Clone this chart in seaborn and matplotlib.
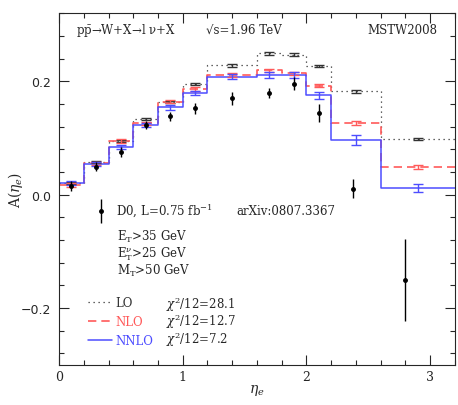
import numpy as np
import pandas as pd
import matplotlib
matplotlib.use("Agg")
import matplotlib.pyplot as plt
import seaborn as sns
from matplotlib.lines import Line2D
from matplotlib.legend_handler import HandlerErrorbar
from matplotlib.container import ErrorbarContainer

# bin edges of the theory predictions and their bin centres
edges = [0.0, 0.2, 0.4, 0.6, 0.8, 1.0, 1.2, 1.6, 1.8, 2.0, 2.2, 2.6, 3.2]
centres = [0.1, 0.3, 0.5, 0.7, 0.9, 1.1, 1.4, 1.7, 1.9, 2.1, 2.4, 2.9]

lo = [0.020, 0.057, 0.095, 0.133, 0.164, 0.195, 0.228, 0.249, 0.247, 0.227, 0.182, 0.098]
lo_err = [0.002] * 12
nlo = [0.017, 0.055, 0.095, 0.126, 0.164, 0.186, 0.211, 0.219, 0.214, 0.192, 0.127, 0.048]
nlo_err = [0.003, 0.003, 0.003, 0.003, 0.003, 0.003, 0.003, 0.003, 0.003, 0.003, 0.0035, 0.0035]
nnlo = [0.021, 0.054, 0.084, 0.123, 0.154, 0.179, 0.208, 0.211, 0.211, 0.175, 0.0965, 0.012]
nnlo_err = [0.004, 0.004, 0.004, 0.004, 0.004, 0.004, 0.004, 0.005, 0.005, 0.006, 0.009, 0.0075]

# D0 data
d0_eta = [0.1, 0.3, 0.5, 0.7, 0.9, 1.1, 1.4, 1.7, 1.9, 2.1, 2.38, 2.8]
d0_asym = [0.016, 0.049, 0.075, 0.123, 0.138, 0.152, 0.170, 0.179, 0.196, 0.144, 0.0105, -0.150]
d0_err = [0.009, 0.008, 0.009, 0.007, 0.008, 0.009, 0.011, 0.009, 0.012, 0.016, 0.017, 0.072]

orders = ["LO", "NLO", "NNLO"]
chi2 = ["28.1", "12.7", "7.2"]
colours = {"LO": "#333333", "NLO": "#ff5a5a", "NNLO": "#4d4dff"}

sns.set_style("ticks")
plt.rcParams["font.family"] = ["DejaVu Serif"]
plt.rcParams["mathtext.fontset"] = "dejavuserif"

steps = pd.concat([
    pd.DataFrame({"eta": edges, "A": np.append(vals, vals[-1]), "order": name})
    for name, vals in zip(orders, [lo, nlo, nnlo])
])

fig, ax = plt.subplots(figsize=(4.58, 4.06), dpi=100)
fig.subplots_adjust(left=0.129, right=0.993, top=0.965, bottom=0.099)

sns.lineplot(data=steps, x="eta", y="A", hue="order", style="order",
             palette=colours, dashes={"LO": (1, 3), "NLO": (5, 3), "NNLO": ""},
             drawstyle="steps-post", estimator=None, legend=False, ax=ax)
for ln, lw in zip(ax.get_lines(), [0.9, 1.2, 1.1]):
    ln.set_linewidth(lw)

for name, vals, errs in zip(orders, [lo, nlo, nnlo], [lo_err, nlo_err, nnlo_err]):
    ax.errorbar(centres, vals, yerr=errs, fmt="none", ecolor=colours[name],
                elinewidth=1.0, capsize=3.3, capthick=1.0)

d0 = ax.errorbar(d0_eta, d0_asym, yerr=d0_err, fmt="o", color="black", ms=2.5,
                 elinewidth=1.0, capsize=0)

ax.set_xlim(0, 3.2)
ax.set_ylim(-0.3, 0.32)
ax.set_xticks([0, 1, 2, 3])
ax.set_xticks(np.arange(0, 3.21, 0.2), minor=True)
ax.set_yticks([-0.2, 0.0, 0.2])
ax.set_yticklabels(["\u22120.2", "0.0", "0.2"], fontfamily="DejaVu Sans")
ax.set_yticks(np.arange(-0.28, 0.33, 0.04), minor=True)
ax.tick_params(which="both", direction="in", top=True, right=True, labelsize=9, width=0.8)
ax.tick_params(axis="x", which="major", length=7, pad=4)
ax.tick_params(axis="y", which="major", length=7, pad=6)
ax.tick_params(which="minor", length=3.5)
for s in ax.spines.values():
    s.set_linewidth(0.8)

ax.set_xlabel(r"$\eta_e$", fontsize=10)
ax.set_ylabel(r"A($\eta_e$)", fontsize=10)
ax.xaxis.set_label_coords(0.5, -0.05)
ax.yaxis.set_label_coords(-0.085, 0.5)

fs = 8.5
ax.text(0.043, 0.955, "p$\\bar{\\rm p}$\u2192W+X\u2192l \u03bd+X", transform=ax.transAxes,
        fontsize=fs, va="center")
ax.text(0.372, 0.955, "\u221as=1.96 TeV", transform=ax.transAxes, fontsize=fs, va="center")
ax.text(0.957, 0.955, "MSTW2008", transform=ax.transAxes, fontsize=fs, va="center", ha="right")
ax.text(0.448, 0.438, "arXiv:0807.3367", transform=ax.transAxes, fontsize=fs, va="center")
for i, cut in enumerate([r"E$_{\rm T}$>35 GeV", r"E$_{\rm T}^{\nu}$>25 GeV",
                         r"M$_{\rm T}$>50 GeV"]):
    ax.text(0.146, 0.367 - i * 0.049, cut, transform=ax.transAxes, fontsize=fs, va="center")

leg1 = ax.legend([d0], ["D0, L=0.75 fb$^{-1}$"], loc="center left",
                 bbox_to_anchor=(0.09, 0.438), frameon=False, fontsize=fs,
                 handlelength=1.0, handletextpad=0.8, borderpad=0, borderaxespad=0,
                 handler_map={ErrorbarContainer: HandlerErrorbar(yerr_size=1.0)})
ax.add_artist(leg1)

handles = [Line2D([], [], color=colours["LO"], lw=0.9, dashes=(1, 3)),
           Line2D([], [], color=colours["NLO"], lw=1.2, dashes=(5, 3)),
           Line2D([], [], color=colours["NNLO"], lw=1.1)]
leg2 = ax.legend(handles, orders, loc="upper left", bbox_to_anchor=(0.073, 0.195),
                 frameon=False, fontsize=fs, handlelength=2.0, handletextpad=0.35,
                 labelspacing=0.5, borderpad=0, borderaxespad=0,
                 labelcolor=[colours[o] for o in orders])
for i, c in enumerate(chi2):
    ax.text(0.27, 0.175 - i * 0.05, r"$\chi^2$/12=" + c, transform=ax.transAxes,
            fontsize=fs, va="center")

fig.savefig("out.png", dpi=100)
